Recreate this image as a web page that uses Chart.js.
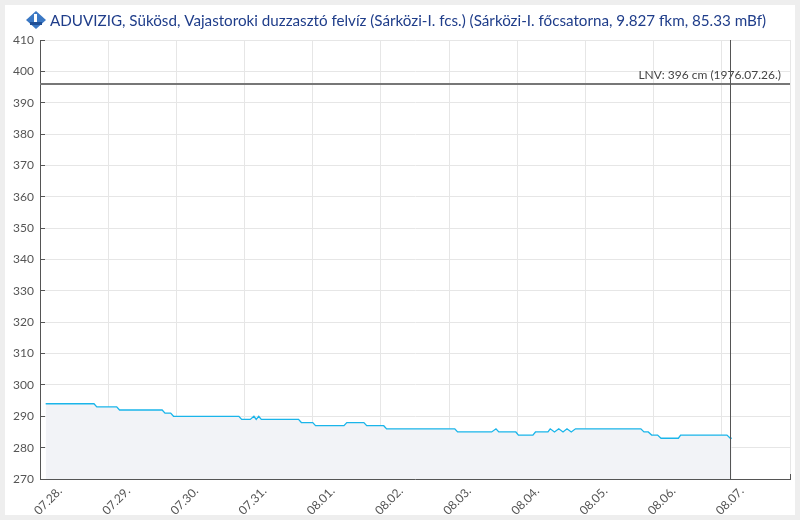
<!DOCTYPE html>
<html>
<head>
<meta charset="utf-8">
<script src="https://cdn.jsdelivr.net/npm/chart.js@4.4.1/dist/chart.umd.min.js"></script>
<style>
  html, body { margin: 0; padding: 0; background: #eeeeee; }
  #wrap { position: absolute; left: 5px; top: 5px; width: 790px; height: 510px; background: #fff; }
</style>
</head>
<body>
<div id="wrap"><canvas id="levelChart" width="790" height="510"></canvas></div>
<script>
// hours since 07.28. 00:00 and water level (cm)
const hours = [2, 19, 20, 27, 28, 43, 44, 46, 47, 70, 71, 74, 75.3, 76.1, 77, 77.9, 91, 92, 96, 97,
    107, 108, 114, 115, 121, 122, 146, 147, 159, 160.5, 161.5, 167.5, 168.4, 173.5, 174.4, 178.8,
    179.6, 181.1, 182.6, 184.1, 185.5, 187, 188.5, 211.5, 212.6, 214.1, 215.3, 217.4, 218.6, 224.7,
    225.5, 241.8, 243, 243.5];
const levels = [294, 294, 293, 293, 292, 292, 291, 291, 290, 290, 289, 289, 290, 289, 290, 289, 289, 288, 288, 287,
    287, 288, 288, 287, 287, 286, 286, 285, 285, 286, 285, 285, 284, 284, 285, 285,
    286, 285, 286, 285, 286, 285, 286, 286, 285, 285, 284, 284, 283, 283,
    284, 284, 283, 283];
const dayLabels = ['07.28.', '07.29.', '07.30.', '07.31.', '08.01.', '08.02.', '08.03.', '08.04.', '08.05.', '08.06.', '08.07.'];
const lnvValue = 396;
const lnvText = 'LNV: 396 cm (1976.07.26.)';
const nowHour = 243;
const titleText = 'ADUVIZIG, Sükösd, Vajastoroki duzzasztó felvíz (Sárközi-I. fcs.) (Sárközi-I. főcsatorna, 9.827 fkm, 85.33 mBf)';

Chart.defaults.font.family = 'Lato';
Chart.defaults.font.size = 12;
Chart.defaults.color = '#555';

const extras = {
    id: 'extras',
    afterDatasetsDraw(chart) {
        const { ctx, chartArea, scales } = chart;
        const y = scales.y.getPixelForValue(lnvValue);
        const x = scales.x.getPixelForValue(nowHour);
        ctx.save();
        // LNV line
        ctx.strokeStyle = '#777';
        ctx.lineWidth = 2;
        ctx.beginPath();
        ctx.moveTo(chartArea.left, y);
        ctx.lineTo(chartArea.right, y);
        ctx.stroke();
        ctx.fillStyle = '#444';
        ctx.font = '12px Lato';
        ctx.textAlign = 'right';
        ctx.textBaseline = 'bottom';
        ctx.fillText(lnvText, chartArea.right - 9, y - 3);
        // now line
        ctx.strokeStyle = '#555';
        ctx.lineWidth = 1;
        ctx.beginPath();
        ctx.moveTo(Math.round(x) + 0.5, chartArea.top);
        ctx.lineTo(Math.round(x) + 0.5, chartArea.bottom);
        ctx.stroke();
        ctx.restore();
    },
    afterDraw(chart) {
        const ctx = chart.ctx;
        ctx.save();
        // small logo
        ctx.fillStyle = '#3b78c4';
        ctx.beginPath();
        ctx.moveTo(31, 6);
        ctx.lineTo(41, 15);
        ctx.lineTo(31, 24);
        ctx.lineTo(21, 15);
        ctx.closePath();
        ctx.fill();
        ctx.fillStyle = '#fff';
        ctx.fillRect(29, 9, 3, 8);
        ctx.fillStyle = '#1f4f96';
        ctx.fillRect(25, 17, 12, 3);
        // title
        ctx.fillStyle = '#1f3d8a';
        ctx.font = '15.2px Lato';
        ctx.textAlign = 'left';
        ctx.textBaseline = 'alphabetic';
        ctx.fillText(titleText, 45, 21);
        ctx.restore();
    }
};

const levelChart = new Chart(document.getElementById('levelChart'), {
    type: 'line',
    data: {
        datasets: [{
            data: hours.map((h, i) => ({ x: h, y: levels[i] })),
            borderColor: '#1ab5ea',
            borderWidth: 1.3,
            backgroundColor: '#f2f3f7',
            fill: 'start',
            pointRadius: 0,
            tension: 0
        }]
    },
    options: {
        responsive: false,
        animation: false,
        layout: {
            padding: { left: 0, right: 5, top: 35, bottom: 0 }
        },
        scales: {
            x: {
                type: 'linear',
                min: 0,
                max: 264,
                afterBuildTicks: (s) => {
                    s.ticks = dayLabels.map((l, i) => ({ value: i * 24 })).concat([{ value: 264 }]);
                },
                afterFit: (s) => {
                    s.height = 36;
                    s.paddingLeft = 0;
                    s.paddingRight = 0;
                },
                ticks: {
                    callback: (v) => dayLabels[v / 24] || '',
                    minRotation: 45,
                    maxRotation: 45,
                    autoSkip: false,
                    labelOffset: 20,
                    padding: 10,
                    color: '#555'
                },
                grid: {
                    color: '#e6e6e6',
                    tickColor: '#555',
                    tickLength: -5
                },
                border: { color: '#555', width: 1 }
            },
            y: {
                min: 270,
                max: 410,
                afterFit: (s) => { s.width = 35; },
                ticks: {
                    stepSize: 10,
                    padding: 11,
                    color: '#555'
                },
                grid: {
                    color: '#e6e6e6',
                    tickColor: '#555',
                    tickLength: -5
                },
                border: { color: '#555', width: 1 }
            }
        },
        plugins: {
            legend: { display: false },
            tooltip: { enabled: false }
        }
    },
    plugins: [extras]
});
</script>
</body>
</html>
